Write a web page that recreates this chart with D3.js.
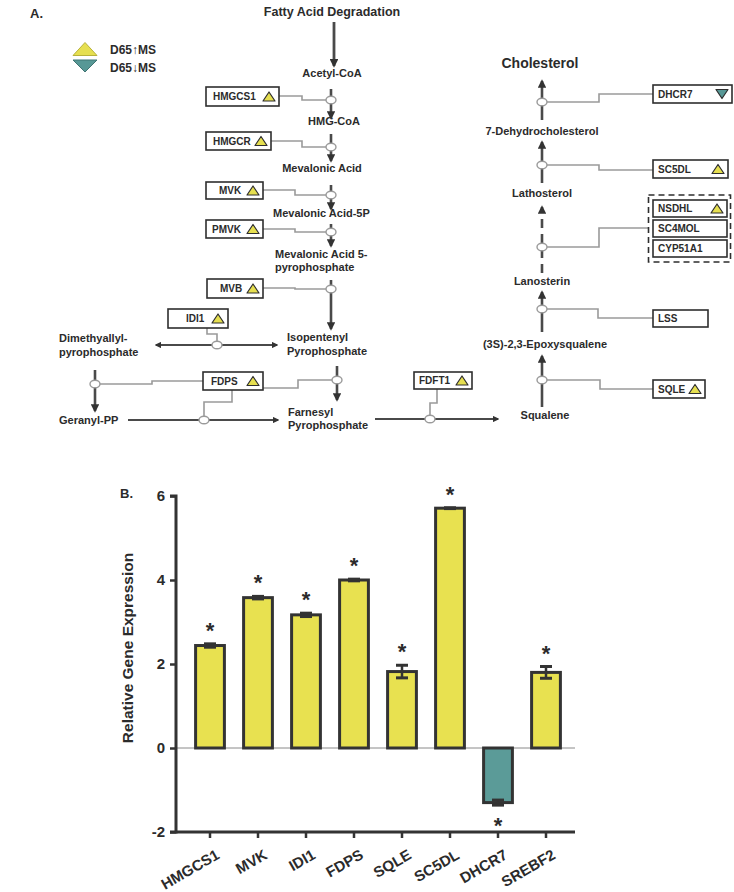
<!DOCTYPE html>
<html><head><meta charset="utf-8">
<script src="https://cdn.jsdelivr.net/npm/d3@7"></script>
<style>
body{margin:0;background:#fff;}
svg text{font-family:"Liberation Sans",Arial,sans-serif;font-weight:bold;fill:#2b2b2b;}
</style></head>
<body>
<svg id="c" width="734" height="892"></svg>
<script>
// ---------- Panel B data ----------
const genes = ["HMGCS1","MVK","IDI1","FDPS","SQLE","SC5DL","DHCR7","SREBF2"];
const expression = [2.44, 3.58, 3.17, 4.00, 1.82, 5.71, -1.30, 1.80];
const errors = [0.04, 0.03, 0.04, 0.02, 0.15, 0.01, 0.06, 0.14];
const significant = [true,true,true,true,true,true,true,true];
const yTicks = [-2, 0, 2, 4, 6];

// ---------- Panel A texts ----------
const legendLabels = ["D65\u2191MS", "D65\u2193MS"];
const leftEnzymes = ["HMGCS1","HMGCR","MVK","PMVK","MVB","IDI1","FDPS","FDFT1"];
const leftRegulation = ["up","up","up","up","up","up","up","up"];
const rightEnzymes = ["DHCR7","SC5DL","NSDHL","SC4MOL","CYP51A1","LSS","SQLE"];
const rightRegulation = ["down","up","up",null,null,null,"up"];

const svg = d3.select("#c");
const YEL = "#e6df50", TEAL = "#579896", DARK = "#2e2e2e", ARROW = "#4a4a4a", CONN = "#9a9a9a";

const defs = svg.append("defs");
defs.append("marker").attr("id","ah").attr("viewBox","0 0 10 10").attr("refX",8).attr("refY",5)
  .attr("markerWidth",3.2).attr("markerHeight",3.2).attr("orient","auto-start-reverse")
  .append("path").attr("d","M0,0 L10,5 L0,10 z").attr("fill","#333");

const A = svg.append("g");
A.append("text").attr("x",30).attr("y",18).style("font-size","13px").text("A.");

// legend
function tri(g, cx, cy, w, h, dir, fill, stroke, sw){
  const p = dir==="up" ? [[cx-w/2,cy+h/2],[cx+w/2,cy+h/2],[cx,cy-h/2]] : [[cx-w/2,cy-h/2],[cx+w/2,cy-h/2],[cx,cy+h/2]];
  g.append("path").attr("d", d3.line()(p)+"Z").attr("fill",fill).attr("stroke",stroke).attr("stroke-width",sw).attr("stroke-linejoin","round");
}
tri(A, 85, 49, 24, 13, "up", YEL, "#b8b23a", 1);
tri(A, 85, 66, 24, 12, "down", TEAL, "#3f7472", 1);
legendLabels.forEach((t,i)=>A.append("text").attr("x",110).attr("y",54+i*18).style("font-size","12px").text(t));

// metabolite labels
function label(x,y,t,anchor,size){
  A.append("text").attr("x",x).attr("y",y).attr("text-anchor",anchor||"middle").style("font-size",(size||11)+"px").text(t);
}
label(332,16,"Fatty Acid Degradation","middle",12.5);
label(332,77,"Acetyl-CoA");
label(334,125,"HMG-CoA");
label(322,172,"Mevalonic Acid");
label(273,217,"Mevalonic Acid-5P","start");
label(275,258,"Mevalonic Acid 5-","start");
label(275,271,"pyrophosphate","start");
label(59,342,"Dimethyallyl-","start");
label(59,356,"pyrophosphate","start");
label(287,341,"Isopentenyl","start");
label(287,355,"Pyrophosphate","start");
label(59,424,"Geranyl-PP","start");
label(288,416,"Farnesyl","start");
label(288,429,"Pyrophosphate","start");
label(545,419,"Squalene");
label(545,348,"(3S)-2,3-Epoxysqualene");
label(542,285,"Lanosterin");
label(542,197,"Lathosterol");
label(542,135,"7-Dehydrocholesterol");
label(540,68,"Cholesterol","middle",14);

// arrows
function arrow(x1,y1,x2,y2,opts){
  opts=opts||{};
  const l = A.append("line").attr("x1",x1).attr("y1",y1).attr("x2",x2).attr("y2",y2)
    .attr("stroke",ARROW).attr("stroke-width",opts.w||2.6).attr("marker-end","url(#ah)");
  if(opts.both) l.attr("marker-start","url(#ah)");
  if(opts.dash) l.attr("stroke-dasharray",opts.dash);
}
arrow(334,22,334,66,{w:2.8});
arrow(331,89,331,118);
arrow(331,134,331,161);
arrow(331,185,331,209);
arrow(331,224,331,246);
arrow(331,280,331,329);
arrow(95,370,95,411);
arrow(337,366,337,400);
arrow(156,345,277,345,{w:2,both:true});
arrow(128,420,278,420,{w:2});
arrow(375,419,498,419,{w:2});
arrow(542,407,542,356);
arrow(542,332,542,292);
arrow(542,273,542,207,{dash:"9,6"});
arrow(542,183,542,142);
arrow(542,120,542,81);

// connectors
function conn(pts){
  A.append("path").attr("d",d3.line()(pts)).attr("fill","none").attr("stroke",CONN).attr("stroke-width",1.6);
}
conn([[279,96],[302,96],[302,100],[331,100]]);
conn([[271,141],[302,141],[302,147],[331,147]]);
conn([[263,190],[295,190],[295,195],[331,195]]);
conn([[263,229],[295,229],[295,232],[331,232]]);
conn([[263,288],[295,288],[295,289],[331,289]]);
conn([[207,328],[207,334],[217,334],[217,345]]);
conn([[95,384],[152,384],[152,381],[203,381]]);
conn([[263,388],[298,388],[298,380],[337,380]]);
conn([[232,390],[232,402],[204,402],[204,420]]);
conn([[437,389],[437,403],[430,403],[430,419]]);
conn([[542,102],[599,102],[599,94],[653,94]]);
conn([[542,165],[599,165],[599,170],[653,170]]);
conn([[542,247],[599,247],[599,228],[649,228]]);
conn([[542,309],[598,309],[598,318],[653,318]]);
conn([[542,380],[600,380],[600,389],[653,389]]);

// circles
[[331,100],[331,147],[331,195],[331,232],[331,289],[217,345],[95,384],[337,380],[204,420],[430,419],
 [542,102],[542,165],[542,247],[542,309],[542,380]].forEach(([x,y])=>{
  A.append("ellipse").attr("cx",x).attr("cy",y).attr("rx",5).attr("ry",3.8).attr("fill","#fff").attr("stroke",CONN).attr("stroke-width",1.4);
});

// enzyme boxes
const leftBoxes = [[206,87,73,19],[206,132,65,18],[206,182,57,17],[206,220,57,18],[207,279,56,19],[168,309,60,19],[203,372,60,18],[414,372,58,17]];
const leftTextX = [213,213,219,212,220,186,211,419];
leftEnzymes.forEach((n,i)=>{
  const [x,y,w,h]=leftBoxes[i];
  A.append("rect").attr("x",x).attr("y",y).attr("width",w).attr("height",h).attr("fill","#fff").attr("stroke",DARK).attr("stroke-width",1.6);
  A.append("text").attr("x",leftTextX[i]).attr("y",y+h/2+3.6).style("font-size","10px").text(n);
  const r = leftRegulation[i];
  if(r) tri(A,x+w-10,y+h/2,12,9,r,r==="up"?YEL:TEAL,DARK,1.2);
});
A.append("rect").attr("x",648.5).attr("y",195).attr("width",82).attr("height",67).attr("fill","none")
  .attr("stroke",DARK).attr("stroke-width",1.6).attr("stroke-dasharray","6,4");
const rightBoxes = [[653,85,79,18],[653,160,75,18],[653,200,74,17],[653,220,74,17],[653,240,74,17],[653,310,55,17],[653,380,52,18]];
rightEnzymes.forEach((n,i)=>{
  const [x,y,w,h]=rightBoxes[i];
  A.append("rect").attr("x",x).attr("y",y).attr("width",w).attr("height",h).attr("fill","#fff").attr("stroke",DARK).attr("stroke-width",1.6);
  A.append("text").attr("x",x+5).attr("y",y+h/2+3.6).style("font-size","10px").text(n);
  const r = rightRegulation[i];
  if(r) tri(A,x+w-10,y+h/2,12,9,r,r==="up"?YEL:TEAL,DARK,1.2);
});

// ---------- Panel B ----------
const B = svg.append("g");
B.append("text").attr("x",120).attr("y",498).style("font-size","13px").text("B.");

const x = d3.scaleBand().domain(genes).range([186,570]).paddingInner(0.4).paddingOuter(0.2);
const y = d3.scaleLinear().domain([-2,6]).range([832,496]);

// zero line
B.append("line").attr("x1",176).attr("x2",575).attr("y1",y(0)).attr("y2",y(0)).attr("stroke","#8a8a8a").attr("stroke-width",1);

// bars
B.selectAll("rect.bar").data(genes).join("rect").attr("class","bar")
  .attr("x",d=>x(d)).attr("width",x.bandwidth())
  .attr("y",(d,i)=>y(Math.max(0,expression[i])))
  .attr("height",(d,i)=>Math.abs(y(expression[i])-y(0)))
  .attr("fill",(d,i)=>expression[i]<0?"#5b9b98":"#e8e150")
  .attr("stroke","#333").attr("stroke-width",3);

// error bars
genes.forEach((g,i)=>{
  const cx = x(g)+x.bandwidth()/2, v=expression[i], e=errors[i];
  const y1=y(v-e), y2=y(v+e);
  B.append("line").attr("x1",cx).attr("x2",cx).attr("y1",y1).attr("y2",y2).attr("stroke","#333").attr("stroke-width",2.5);
  [y1,y2].forEach(yy=>B.append("line").attr("x1",cx-6).attr("x2",cx+6).attr("y1",yy).attr("y2",yy).attr("stroke","#333").attr("stroke-width",3));
  if(significant[i]){
    const ty = v>=0 ? y(v+e)-6 : y(v-e)+28;
    B.append("text").attr("x",cx).attr("y",ty).attr("text-anchor","middle").style("font-size","22px").text("*");
  }
});

// axes
const yAxis = B.append("g").attr("transform","translate(176,0)")
  .call(d3.axisLeft(y).tickValues(yTicks).tickFormat(d=>String(d)).tickSize(6).tickPadding(5));
yAxis.select(".domain").attr("stroke","#333").attr("stroke-width",3).attr("d","M-6,496H0V832H-6");
yAxis.selectAll(".tick line").attr("stroke","#333").attr("stroke-width",2.5);
yAxis.selectAll(".tick text").style("font-size","15px").attr("fill","#2b2b2b");

const xAxis = B.append("g").attr("transform","translate(0,832)")
  .call(d3.axisBottom(x).tickSize(6).tickSizeOuter(0));
xAxis.select(".domain").attr("stroke","#333").attr("stroke-width",3).attr("d","M176,0H575");
xAxis.selectAll(".tick line").attr("stroke","#333").attr("stroke-width",2.5);
xAxis.selectAll(".tick text").style("font-size","15px").attr("fill","#2b2b2b")
  .attr("text-anchor","end").attr("dy","0").attr("transform","translate(6,18) rotate(-30)");

B.append("text").attr("transform","translate(133,648) rotate(-90)").attr("text-anchor","middle")
  .style("font-size","15.5px").text("Relative Gene Expression");
</script>
</body></html>
